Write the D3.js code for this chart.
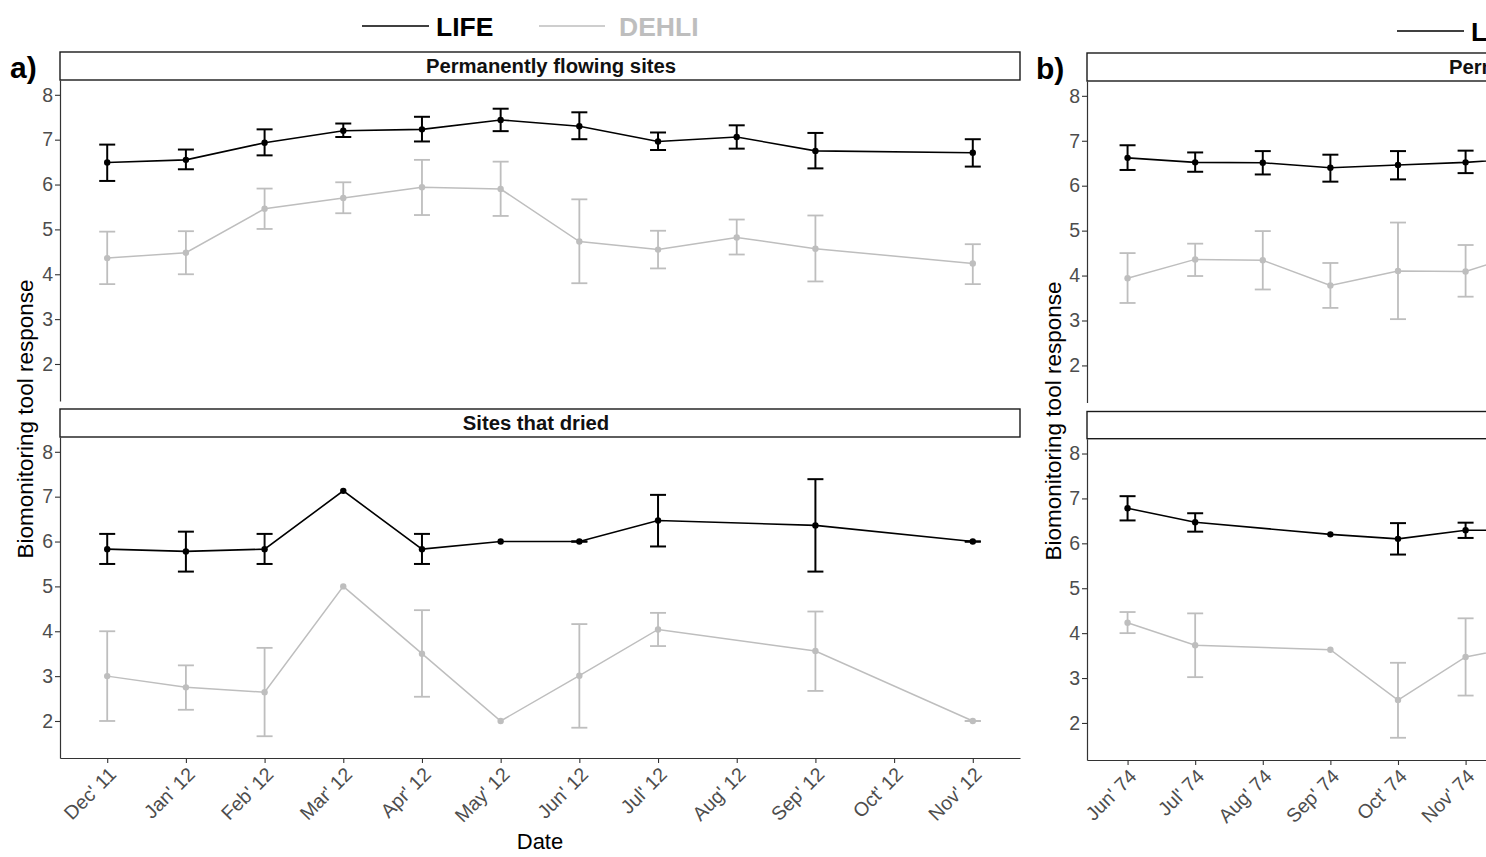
<!DOCTYPE html>
<html>
<head>
<meta charset="utf-8">
<script src="https://cdn.jsdelivr.net/npm/d3@7"></script>
<style>
  html, body { margin: 0; padding: 0; background: #fff; }
  svg { display: block; font-family: "Liberation Sans", Arial, sans-serif; }
</style>
</head>
<body>
<svg id="chart" width="1486" height="857"></svg>
<script>
// ---- Categories (sampling months) ----
const catsA = ["Dec' 11", "Jan' 12", "Feb' 12", "Mar' 12", "Apr' 12", "May' 12",
               "Jun' 12", "Jul' 12", "Aug' 12", "Sep' 12", "Oct' 12", "Nov' 12"];
const catsB = ["Jun' 74", "Jul' 74", "Aug' 74", "Sep' 74", "Oct' 74", "Nov' 74", "Dec' 74",
               "Jan' 75", "Feb' 75", "Mar' 75", "Apr' 75", "May' 75", "Jun' 75", "Jul' 75"];
const yTicks = [2, 3, 4, 5, 6, 7, 8];
const seriesNames = ["LIFE", "DEHLI"];
const facetTitles = ["Permanently flowing sites", "Sites that dried"];

// ---- a) permanently flowing sites ----
const aFlowMonths = ["Dec' 11", "Jan' 12", "Feb' 12", "Mar' 12", "Apr' 12", "May' 12",
                     "Jun' 12", "Jul' 12", "Aug' 12", "Sep' 12", "Nov' 12"];
const aFlowLife    = [6.49, 6.55, 6.93, 7.20, 7.23, 7.44, 7.30, 6.96, 7.06, 6.75, 6.71];
const aFlowLifeLo  = [6.08, 6.34, 6.65, 7.06, 6.96, 7.19, 7.01, 6.77, 6.80, 6.36, 6.40];
const aFlowLifeHi  = [6.89, 6.78, 7.23, 7.36, 7.51, 7.69, 7.61, 7.16, 7.32, 7.15, 7.01];
const aFlowDehli   = [4.36, 4.48, 5.46, 5.70, 5.94, 5.90, 4.73, 4.55, 4.82, 4.57, 4.24];
const aFlowDehliLo = [3.78, 4.00, 5.01, 5.36, 5.32, 5.30, 3.80, 4.13, 4.44, 3.84, 3.78];
const aFlowDehliHi = [4.95, 4.96, 5.91, 6.05, 6.55, 6.51, 5.67, 4.97, 5.22, 5.31, 4.67];

// ---- a) sites that dried ----
const aDryMonths = ["Dec' 11", "Jan' 12", "Feb' 12", "Mar' 12", "Apr' 12", "May' 12",
                    "Jun' 12", "Jul' 12", "Sep' 12", "Nov' 12"];
const aDryLife    = [5.83, 5.78, 5.83, 7.13, 5.83, 6.00, 6.00, 6.47, 6.36, 6.00];
const aDryLifeLo  = [5.50, 5.33, 5.50, null, 5.50, null, 6.00, 5.89, 5.33, 6.00];
const aDryLifeHi  = [6.17, 6.22, 6.17, null, 6.17, null, 6.00, 7.04, 7.39, 6.00];
const aDryDehli   = [3.00, 2.75, 2.64, 5.00, 3.50, 2.00, 3.01, 4.04, 3.56, 2.00];
const aDryDehliLo = [2.00, 2.25, 1.66, null, 2.54, null, 1.85, 3.67, 2.67, 2.00];
const aDryDehliHi = [4.00, 3.24, 3.63, null, 4.47, null, 4.16, 4.41, 4.44, 2.00];

// ---- b) permanently flowing sites ----
const bFlowMonths = ["Jun' 74", "Jul' 74", "Aug' 74", "Sep' 74", "Oct' 74", "Nov' 74", "Dec' 74"];
const bFlowLife    = [6.62, 6.52, 6.51, 6.40, 6.46, 6.52, 6.62];
const bFlowLifeLo  = [6.35, 6.31, 6.25, 6.09, 6.14, 6.28, null];
const bFlowLifeHi  = [6.90, 6.74, 6.77, 6.69, 6.77, 6.78, null];
const bFlowDehli   = [3.94, 4.36, 4.34, 3.78, 4.10, 4.09, 4.57];
const bFlowDehliLo = [3.39, 3.99, 3.69, 3.28, 3.03, 3.53, null];
const bFlowDehliHi = [4.50, 4.71, 4.99, 4.28, 5.18, 4.68, null];

// ---- b) sites that dried ----
const bDryMonths = ["Jun' 74", "Jul' 74", "Sep' 74", "Oct' 74", "Nov' 74", "Dec' 74"];
const bDryLife    = [6.78, 6.47, 6.20, 6.10, 6.29, 6.29];
const bDryLifeLo  = [6.51, 6.26, null, 5.75, 6.12, null];
const bDryLifeHi  = [7.05, 6.67, null, 6.45, 6.46, null];
const bDryDehli   = [4.23, 3.73, 3.63, 2.51, 3.47, 3.76];
const bDryDehliLo = [4.00, 3.02, null, 1.67, 2.61, null];
const bDryDehliHi = [4.47, 4.44, null, 3.34, 4.33, null];

// ---- Styling ----
const colors = { LIFE: "#000000", DEHLI: "#bebebe" };
const lineW  = { LIFE: 1.6, DEHLI: 1.5 };
const barW   = { LIFE: 2.0, DEHLI: 1.8 };
const axisColor = "#333333";
const tickTextColor = "#4d4d4d";
const yDomain = [1.175, 8.33];
const legendKeys = [ { line: [0, 67], text: 74 }, { line: [177, 243], text: 257 } ];

function rows(months, mean, lo, hi) {
  return months.map((m, i) => ({ m, v: mean[i], lo: lo[i], hi: hi[i] }));
}

const panels = [
  {
    label: "a)", labelX: 10, labelY: 78,
    x0: 60, x1: 1020, cats: catsA,
    legendX: 362, legendY: 26,
    yTitleX: 33, yTitleY: 419,
    facets: [
      { title: facetTitles[0], titleShift: 11, stripTop: 52, plotTop: 80, plotBottom: 401, xAxis: false,
        series: { LIFE: rows(aFlowMonths, aFlowLife, aFlowLifeLo, aFlowLifeHi),
                  DEHLI: rows(aFlowMonths, aFlowDehli, aFlowDehliLo, aFlowDehliHi) } },
      { title: facetTitles[1], titleShift: -4, stripTop: 409, plotTop: 437, plotBottom: 758, xAxis: true,
        series: { LIFE: rows(aDryMonths, aDryLife, aDryLifeLo, aDryLifeHi),
                  DEHLI: rows(aDryMonths, aDryDehli, aDryDehliLo, aDryDehliHi) } }
    ]
  },
  {
    label: "b)", labelX: 1036, labelY: 79,
    x0: 1087, x1: 2047, cats: catsB,
    legendX: 1397, legendY: 31,
    yTitleX: 1061, yTitleY: 421,
    facets: [
      { title: facetTitles[0], titleShift: 7, stripTop: 53, plotTop: 81, plotBottom: 402.5, xAxis: false,
        series: { LIFE: rows(bFlowMonths, bFlowLife, bFlowLifeLo, bFlowLifeHi),
                  DEHLI: rows(bFlowMonths, bFlowDehli, bFlowDehliLo, bFlowDehliHi) } },
      { title: facetTitles[1], titleShift: -4, stripTop: 411.5, plotTop: 438.7, plotBottom: 760, xAxis: true,
        series: { LIFE: rows(bDryMonths, bDryLife, bDryLifeLo, bDryLifeHi),
                  DEHLI: rows(bDryMonths, bDryDehli, bDryDehliLo, bDryDehliHi) } }
    ]
  }
];

const svg = d3.select("#chart");

panels.forEach(p => {
  const g = svg.append("g");
  const x = d3.scalePoint().domain(p.cats).range([p.x0, p.x1]).padding(0.6);

  // panel tag
  g.append("text").attr("x", p.labelX).attr("y", p.labelY)
    .attr("font-size", 30).attr("font-weight", "bold").attr("fill", "#000")
    .text(p.label);

  // legend
  const leg = g.append("g").attr("transform", `translate(${p.legendX},${p.legendY})`);
  seriesNames.forEach((name, i) => {
    const k = legendKeys[i];
    leg.append("line").attr("x1", k.line[0]).attr("x2", k.line[1]).attr("y1", 0).attr("y2", 0)
      .attr("stroke", colors[name]).attr("stroke-width", 1.6);
    leg.append("text").attr("x", k.text).attr("y", 10)
      .attr("font-size", 26.5).attr("font-weight", "bold").attr("fill", colors[name])
      .text(name);
  });

  // y-axis title
  g.append("text")
    .attr("transform", `translate(${p.yTitleX},${p.yTitleY}) rotate(-90)`)
    .attr("text-anchor", "middle").attr("font-size", 22.5).attr("fill", "#000")
    .text("Biomonitoring tool response");

  p.facets.forEach(f => {
    const y = d3.scaleLinear().domain(yDomain).range([f.plotBottom, f.plotTop]);
    const fg = g.append("g");

    // strip
    fg.append("rect").attr("x", p.x0).attr("y", f.stripTop)
      .attr("width", p.x1 - p.x0).attr("height", f.plotTop - f.stripTop)
      .attr("fill", "#fff").attr("stroke", "#1a1a1a").attr("stroke-width", 1.4);
    fg.append("text").attr("x", (p.x0 + p.x1) / 2 + f.titleShift).attr("y", f.stripTop + 21)
      .attr("text-anchor", "middle").attr("font-size", 20.3).attr("font-weight", "bold")
      .attr("fill", "#111").text(f.title);

    // y axis
    const ya = fg.append("g").attr("transform", `translate(${p.x0},0)`)
      .call(d3.axisLeft(y).tickValues(yTicks).tickSize(5).tickSizeOuter(0).tickPadding(2)
        .tickFormat(d3.format("d")));
    ya.select(".domain").attr("stroke", axisColor).attr("stroke-width", 1.2);
    ya.selectAll(".tick line").attr("stroke", axisColor).attr("stroke-width", 1.1);
    ya.selectAll(".tick text").attr("fill", tickTextColor).attr("font-size", 19.5)
      .attr("font-family", "Liberation Sans, Arial, sans-serif");

    // x axis (bottom facet only)
    if (f.xAxis) {
      const xa = fg.append("g").attr("transform", `translate(0,${f.plotBottom})`)
        .call(d3.axisBottom(x).tickSize(5).tickSizeOuter(0));
      xa.select(".domain").attr("stroke", axisColor).attr("stroke-width", 1.2);
      xa.selectAll(".tick line").attr("stroke", axisColor).attr("stroke-width", 1.1);
      xa.selectAll(".tick text")
        .attr("fill", tickTextColor).attr("font-size", 19.5)
        .attr("font-family", "Liberation Sans, Arial, sans-serif")
        .attr("text-anchor", "end")
        .attr("x", 0).attr("y", 0).attr("dy", "0.7em")
        .attr("transform", "translate(0,8) rotate(-45)");
    }

    // series: DEHLI underneath, LIFE on top
    ["DEHLI", "LIFE"].forEach(name => {
      const data = f.series[name];
      const sg = fg.append("g");
      const bars = data.filter(d => d.lo != null && d.hi != null);
      const cap = 8;
      bars.forEach(d => {
        const cx = x(d.m);
        sg.append("line").attr("x1", cx).attr("x2", cx).attr("y1", y(d.lo)).attr("y2", y(d.hi))
          .attr("stroke", colors[name]).attr("stroke-width", barW[name]);
        [d.lo, d.hi].forEach(v => {
          sg.append("line").attr("x1", cx - cap).attr("x2", cx + cap).attr("y1", y(v)).attr("y2", y(v))
            .attr("stroke", colors[name]).attr("stroke-width", barW[name]);
        });
      });
      sg.append("path").datum(data)
        .attr("d", d3.line().x(d => x(d.m)).y(d => y(d.v)))
        .attr("fill", "none").attr("stroke", colors[name]).attr("stroke-width", lineW[name]);
      sg.selectAll("circle").data(data).join("circle")
        .attr("cx", d => x(d.m)).attr("cy", d => y(d.v)).attr("r", 3.2)
        .attr("fill", colors[name]);
    });
  });
});

// x-axis title
svg.append("text").attr("x", 540).attr("y", 849).attr("text-anchor", "middle")
  .attr("font-size", 22).attr("fill", "#000").text("Date");
</script>
</body>
</html>
